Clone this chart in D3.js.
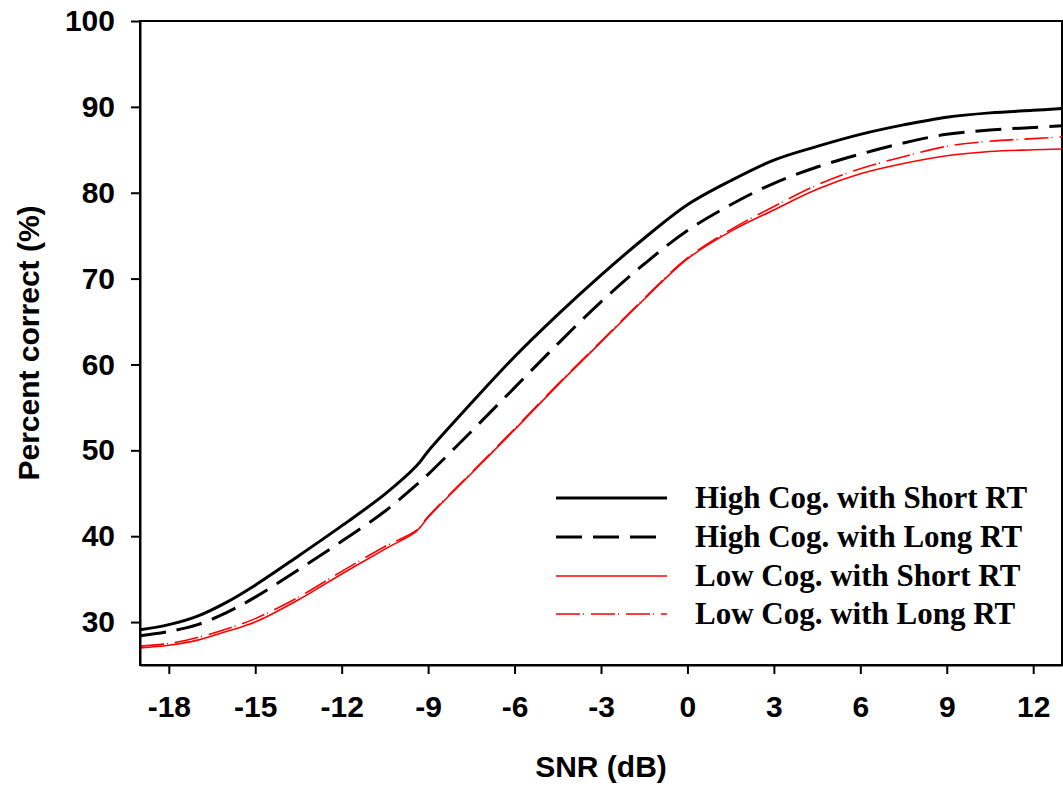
<!DOCTYPE html>
<html>
<head>
<meta charset="utf-8">
<script src="https://cdn.jsdelivr.net/npm/d3@7"></script>
<style>
  html, body { margin: 0; padding: 0; background: #fff; }
  svg { display: block; }
</style>
</head>
<body>
<svg id="chart" width="1063" height="790"></svg>
<script>
const snr = [-19, -18, -17, -16, -15, -13.5, -12, -10.5, -9.4, -9, -7.5, -6, -4.5, -3, -1.5, 0, 1.5, 3, 4.5, 6, 7.5, 9, 10.5, 12, 13];
const highCogShortRT = [29.1, 29.7, 30.7, 32.3, 34.3, 37.7, 41.2, 44.9, 48.2, 49.9, 55.5, 60.9, 65.8, 70.4, 74.7, 78.6, 81.4, 83.8, 85.4, 86.8, 87.9, 88.8, 89.3, 89.6, 89.8];
const highCogLongRT  = [28.4, 28.9, 29.7, 31.1, 32.9, 36.1, 39.4, 42.9, 46.0, 47.2, 52.2, 57.3, 62.4, 67.3, 71.7, 75.6, 78.6, 81.1, 83.0, 84.5, 85.8, 86.8, 87.3, 87.6, 87.8];
const lowCogShortRT  = [27.0, 27.3, 27.9, 28.9, 30.0, 32.6, 35.6, 38.5, 40.6, 42.2, 47.3, 52.4, 57.6, 62.6, 67.6, 72.3, 75.5, 78.0, 80.4, 82.2, 83.4, 84.3, 84.8, 85.0, 85.1];
const lowCogLongRT   = [27.2, 27.5, 28.2, 29.2, 30.4, 32.9, 35.9, 38.8, 40.7, 42.3, 47.4, 52.5, 57.7, 62.7, 67.7, 72.4, 75.7, 78.4, 80.9, 82.8, 84.2, 85.4, 86.0, 86.3, 86.5];
const seriesNames = ["High Cog. with Short RT", "High Cog. with Long RT", "Low Cog. with Short RT", "Low Cog. with Long RT"];
const xTicks = [-18, -15, -12, -9, -6, -3, 0, 3, 6, 9, 12];
const yTicks = [30, 40, 50, 60, 70, 80, 90, 100];

const styles = [
  { color: "#000", width: 3, dash: null },
  { color: "#000", width: 3, dash: "26,11" },
  { color: "#ff0000", width: 1.6, dash: null },
  { color: "#ff0000", width: 1.6, dash: "24,3,1,7" }
];
const allSeries = [highCogShortRT, highCogLongRT, lowCogShortRT, lowCogLongRT];

const svg = d3.select("#chart");
const pL = 140, pR = 1062, pT = 21, pB = 665;
const x = d3.scaleLinear().domain([-19, 13]).range([pL, pR]);
const y = d3.scaleLinear().domain([25, 100]).range([pB, pT]);

svg.append("defs").append("clipPath").attr("id", "clip")
  .append("rect").attr("x", pL).attr("y", pT).attr("width", pR - pL).attr("height", pB - pT);

// frame
svg.append("rect").attr("x", pL).attr("y", pT).attr("width", pR - pL).attr("height", pB - pT)
  .attr("fill", "none").attr("stroke", "#000").attr("stroke-width", 2);

// lines
const line = d3.line().x(d => x(d[0])).y(d => y(d[1])).curve(d3.curveCatmullRom.alpha(0.5));
allSeries.forEach((vals, i) => {
  const pts = snr.map((s, j) => [s, vals[j]]);
  const p = svg.append("path").datum(pts)
    .attr("clip-path", "url(#clip)")
    .attr("fill", "none")
    .attr("stroke", styles[i].color)
    .attr("stroke-width", styles[i].width)
    .attr("d", line);
  if (styles[i].dash) p.attr("stroke-dasharray", styles[i].dash);
});

// axes
const xAxis = svg.append("g").attr("transform", `translate(0,${pB})`)
  .call(d3.axisBottom(x).tickValues(xTicks).tickSize(9).tickSizeOuter(0).tickPadding(22).tickFormat(d3.format("d")));
const yAxis = svg.append("g").attr("transform", `translate(${pL},0)`)
  .call(d3.axisLeft(y).tickValues(yTicks).tickSize(9).tickSizeOuter(0).tickPadding(16).tickFormat(d3.format("d")));
[xAxis, yAxis].forEach(g => {
  g.select(".domain").attr("stroke", "#000").attr("stroke-width", 2);
  g.selectAll(".tick line").attr("stroke", "#000").attr("stroke-width", 2);
  g.selectAll(".tick text")
    .attr("fill", "#000")
    .style("font-family", "'Liberation Sans', Arial, sans-serif")
    .style("font-weight", "bold")
    .style("font-size", "30px");
});
xAxis.selectAll(".tick text").text(d => d < 0 ? "-" + Math.abs(d) : d);

// axis titles
svg.append("text").attr("x", (pL + pR) / 2).attr("y", 777)
  .attr("text-anchor", "middle")
  .style("font-family", "'Liberation Sans', Arial, sans-serif")
  .style("font-weight", "bold").style("font-size", "30px")
  .text("SNR (dB)");
svg.append("text")
  .attr("transform", `translate(39,${(pT + pB) / 2}) rotate(-90)`)
  .attr("text-anchor", "middle")
  .style("font-family", "'Liberation Sans', Arial, sans-serif")
  .style("font-weight", "bold").style("font-size", "30px")
  .text("Percent correct (%)");

// legend
const legendY = [498, 537, 576, 614];
seriesNames.forEach((name, i) => {
  const l = svg.append("line")
    .attr("x1", 556).attr("x2", 667).attr("y1", legendY[i]).attr("y2", legendY[i])
    .attr("stroke", styles[i].color).attr("stroke-width", styles[i].width);
  if (styles[i].dash) l.attr("stroke-dasharray", styles[i].dash);
  svg.append("text").attr("x", 695).attr("y", legendY[i] + 10)
    .style("font-family", "'Liberation Serif', 'Times New Roman', serif")
    .style("font-weight", "bold").style("font-size", "31px")
    .text(name);
});
</script>
</body>
</html>
